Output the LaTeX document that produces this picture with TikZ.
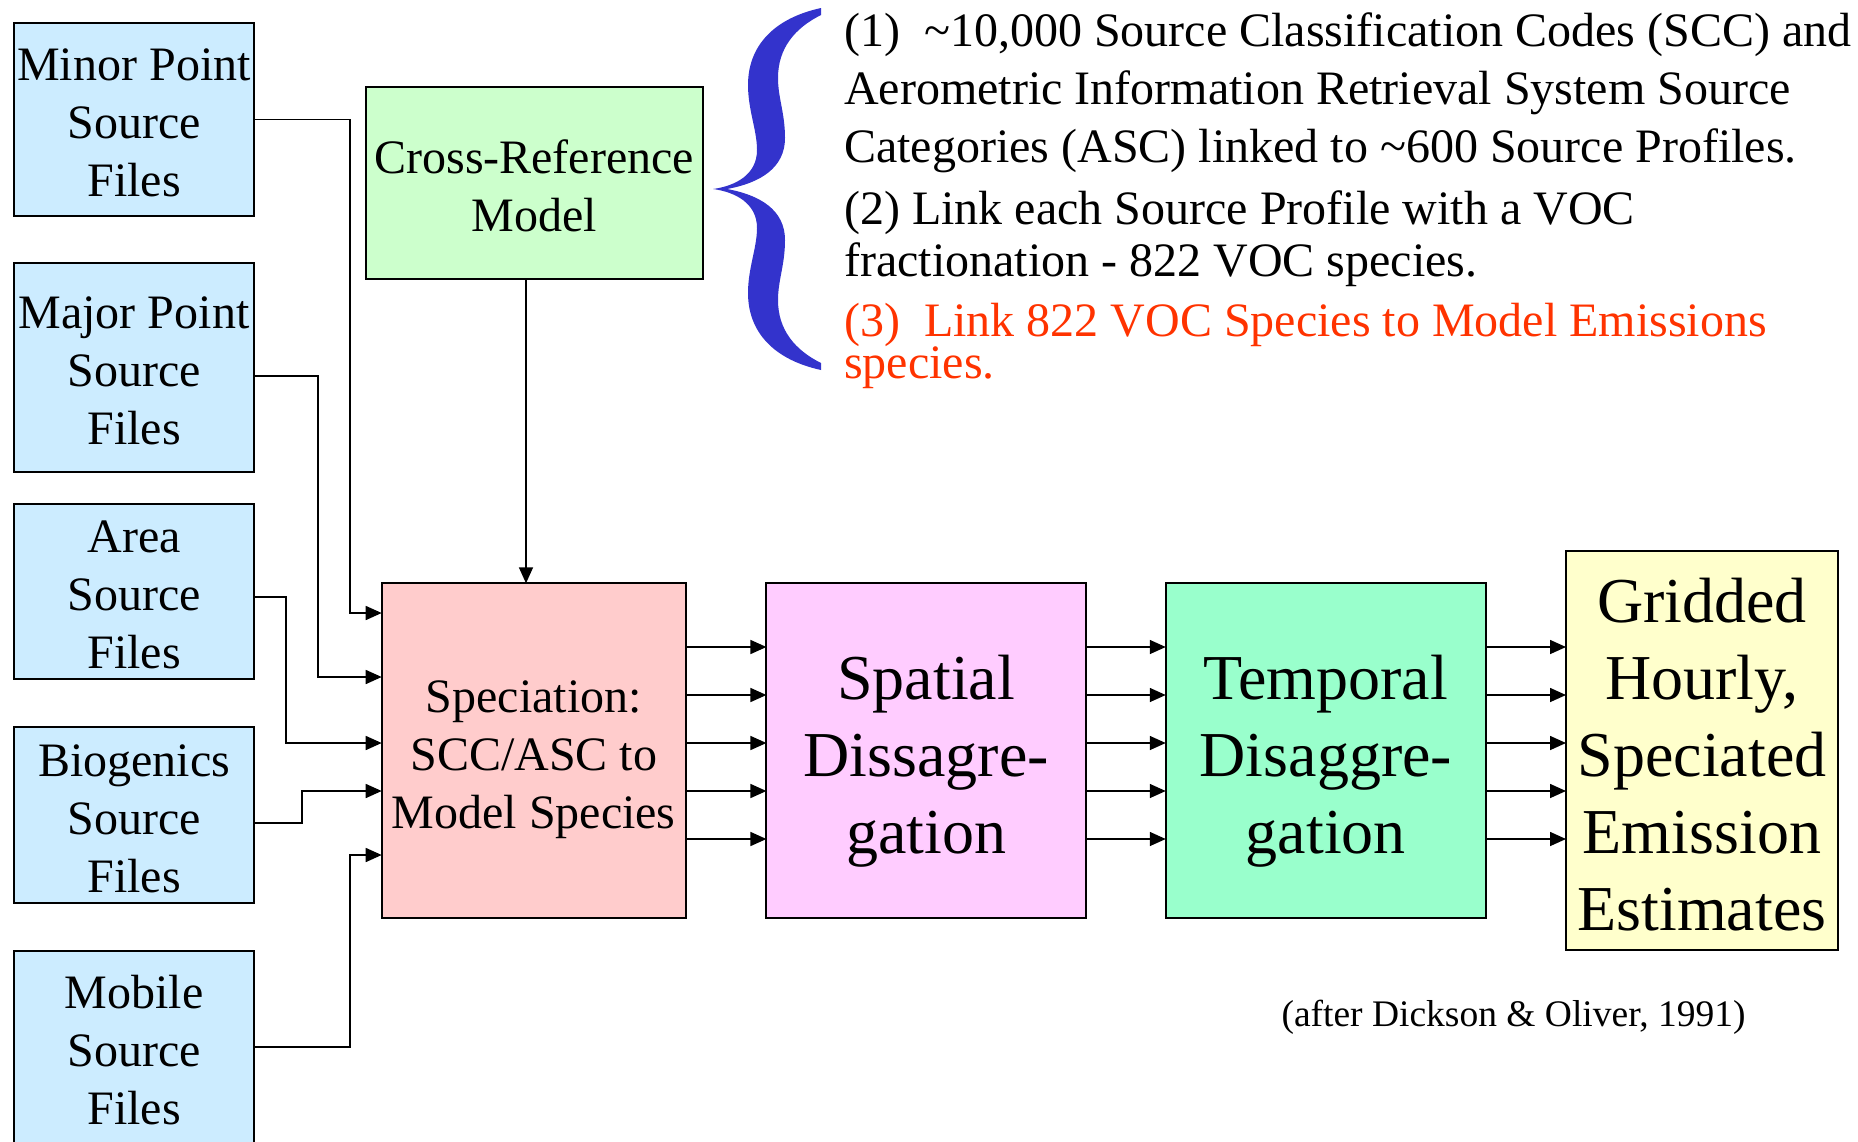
\documentclass[tikz,border=0pt]{standalone}
\usepackage{fontspec}
\setmainfont{Liberation Serif}
\usetikzlibrary{arrows.meta}

\definecolor{srcblue}{HTML}{CCECFF}
\definecolor{xrefgreen}{HTML}{CCFFCC}
\definecolor{specpink}{HTML}{FFCCCC}
\definecolor{spatmag}{HTML}{FFCCFF}
\definecolor{tempgreen}{HTML}{99FFCC}
\definecolor{gridyellow}{HTML}{FFFFCC}
\definecolor{bracecol}{HTML}{3333CC}
\definecolor{notered}{HTML}{FF3300}

% fixed first-line heights for the box texts
\newcommand\topsmall{\rule{0pt}{38.4pt}}
\newcommand\topbig{\rule{0pt}{51.2pt}}

\tikzset{
  % text blocks have no descender depth, so every block sits the same way
  box/.style={draw=black, line width=2pt, rectangle, inner sep=0pt, outer sep=0pt,
    align=center, text=black, text depth=0pt},
  smallbox/.style={box, font=\fontsize{48}{58}\selectfont},
  bigbox/.style={box, font=\fontsize{64}{77}\selectfont},
  srcbox/.style={smallbox, fill=srcblue, minimum width=240pt},
  arr/.style={line width=1.6pt, -{Triangle[length=16pt,width=14pt]}},
  note/.style={anchor=base west, inner sep=0pt, font=\fontsize{48}{58}\selectfont},
}

\begin{document}
\begin{tikzpicture}[x=1pt, y=-1pt]
\useasboundingbox (0,0) rectangle (1858,1141);
\clip (0,0) rectangle (1858,1141);

% input files
\node[srcbox, minimum height=193pt] (minor)  at (134,119.5)  {\topsmall Minor Point\\Source\\Files};
\node[srcbox, minimum height=209pt] (major)  at (134,367.5)  {\topsmall Major Point\\Source\\Files};
\node[srcbox, minimum height=175pt] (area)   at (134,591.5)  {\topsmall Area\\Source\\Files};
\node[srcbox, minimum height=176pt] (bio)    at (134,815)    {\topsmall Biogenics\\Source\\Files};
\node[srcbox, minimum height=193pt] (mobile) at (134,1047.5) {\topsmall Mobile\\Source\\Files};

% processing chain
\node[smallbox, fill=xrefgreen, minimum width=336.5pt, minimum height=192pt] (xref)
  at (534.25,183) {\topsmall Cross-Reference\\Model};
\node[smallbox, fill=specpink, minimum width=304pt, minimum height=335pt] (spec)
  at (533.7,750.8) {\topsmall Speciation:\\SCC/ASC to\\Model Species};
\node[bigbox, fill=spatmag, minimum width=319.6pt, minimum height=335pt] (spatial)
  at (926.2,750.5) {\topbig Spatial\\Dissagre-\\gation};
\node[bigbox, fill=tempgreen, minimum width=320.3pt, minimum height=335pt] (temporal)
  at (1325.9,750.5) {\topbig Temporal\\Disaggre-\\gation};
\node[bigbox, fill=gridyellow, minimum width=272pt, minimum height=399pt] (grid)
  at (1702,750.5) {\topbig Gridded\\Hourly,\\Speciated\\Emission\\Estimates};

% file connectors into the speciation step
\draw[arr] (minor.east) -| (350,613) -- (spec.west |- 0,613);
\draw[arr] (major.east |- 0,376) -| (318,677) -- (spec.west |- 0,677);
\draw[arr] (area.east |- 0,597) -| (286,743) -- (spec.west |- 0,743);
\draw[arr] (bio.east |- 0,823) -| (302,791) -- (spec.west |- 0,791);
\draw[arr] (mobile.east |- 0,1047) -| (350,855) -- (spec.west |- 0,855);
\draw[arr] (xref.south -| 526,0) -- (spec.north -| 526,0);

% parallel flows between stages
\foreach \yy in {647,695,743,791,839} {
  \draw[arr] (spec.east |- 0,\yy) -- (spatial.west |- 0,\yy);
  \draw[arr] (spatial.east |- 0,\yy) -- (temporal.west |- 0,\yy);
  \draw[arr] (temporal.east |- 0,\yy) -- (grid.west |- 0,\yy);
}

% curly brace
\fill[bracecol]
  (821,8) .. controls (775,18) and (748,45) .. (748,85)
  .. controls (748,110) and (757,130) .. (757,150)
  .. controls (757,175) and (735,186) .. (713,189)
  .. controls (735,192) and (757,203) .. (757,228)
  .. controls (757,248) and (748,268) .. (748,293)
  .. controls (748,333) and (775,360) .. (821,370)
  -- (821,363)
  .. controls (795,350) and (778,330) .. (778,300)
  .. controls (778,280) and (785,265) .. (785,240)
  .. controls (785,210) and (760,195) .. (727,189)
  .. controls (760,183) and (785,168) .. (785,138)
  .. controls (785,113) and (778,98) .. (778,78)
  .. controls (778,48) and (795,28) .. (821,15) -- cycle;

% notes
\node[note] (n1) at (844,46.7) {(1)\ \ \textasciitilde10,000 Source Classification Codes (SCC) and};
\node[note] (n2) at (844,104) {Aerometric Information Retrieval System Source};
\node[note] (n3) at (844,162) {Categories (ASC) linked to \textasciitilde600 Source Profiles.};
\node[note] (n4) at (844,224) {(2) Link each Source Profile with a VOC};
\node[note] (n5) at (844,276) {fractionation - 822 VOC species.};
\node[note, text=notered] (n6) at (844,336) {(3)\ \ Link 822 VOC Species to Model Emissions};
\node[note, text=notered] (n7) at (844,378) {species.};

\node[anchor=base, inner sep=0pt, font=\fontsize{37.5}{44}\selectfont] (cite)
  at (1513.5,1026.5) {(after Dickson \& Oliver, 1991)};
\end{tikzpicture}
\end{document}
